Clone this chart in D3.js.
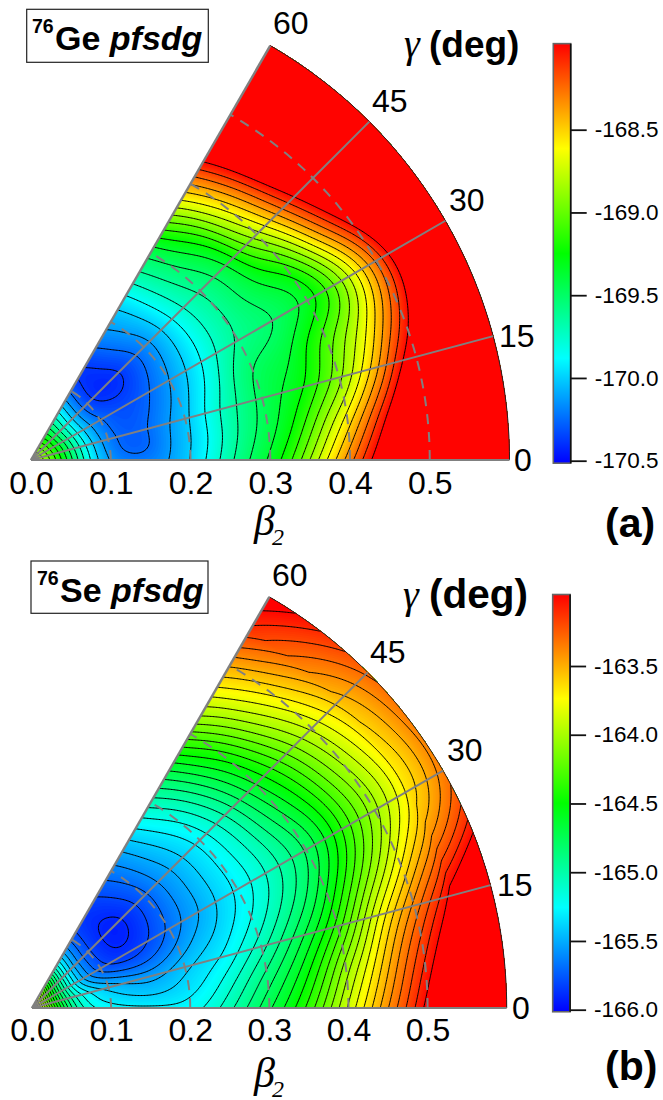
<!DOCTYPE html>
<html><head><meta charset="utf-8">
<script src="https://cdn.jsdelivr.net/npm/d3@7"></script>
<style>
html,body{margin:0;padding:0;background:#fff}
svg{display:block}
text{font-family:"Liberation Sans",Arial,sans-serif;fill:#000}
</style></head><body>
<svg id="c" width="663" height="1100"></svg>
<script>
// beta_2 knots (columns) and gamma knots (rows)
const betaKnots = [0,.025,.05,.075,.1,.125,.15,.175,.2,.225,.25,.275,.3,.325,.35,.375,.4,.425,.45,.475,.5,.525,.55,.6];
const gammaKnots = [0,7.5,15,22.5,30,37.5,45,52.5,60];
const betaTicks = [0,.1,.2,.3,.4,.5];
const gammaTicks = [0,15,30,45,60];
const arcBetas = [.1,.2,.3,.4,.5];

const ge0  = [-168.65,-169.0,-169.47,-169.91,-170.17,-170.22,-170.21,-170.12,-170.0,-169.84,-169.65,-169.49,-169.36,-169.16,-168.87,-168.58,-168.3,-168.02,-167.75,-167.45,-167.2,-166.9,-166.6,-166];
const ge8  = [-168.65,-169.02,-169.5,-169.94,-170.2,-170.31,-170.28,-170.13,-170.02,-169.88,-169.7,-169.55,-169.44,-169.32,-169.1,-168.82,-168.56,-168.27,-167.97,-167.7,-167.4,-167.1,-166.8,-166.2];
const ge15 = [-168.65,-169.04,-169.53,-169.96,-170.22,-170.3,-170.26,-170.14,-170.03,-169.87,-169.7,-169.58,-169.46,-169.38,-169.3,-169.16,-168.98,-168.72,-168.43,-168.08,-167.85,-167.6,-167.3,-166.8];
const ge23 = [-168.65,-169.06,-169.55,-170.0,-170.24,-170.32,-170.29,-170.2,-170.08,-169.94,-169.8,-169.6,-169.47,-169.44,-169.39,-169.2,-169.02,-168.86,-168.68,-168.42,-168.14,-167.87,-167.6,-167.1];
const ge30 = [-168.65,-169.08,-169.58,-170.03,-170.25,-170.33,-170.32,-170.24,-170.13,-170.0,-169.86,-169.72,-169.62,-169.58,-169.55,-169.51,-169.43,-169.3,-169.02,-168.68,-168.32,-167.98,-167.65,-167];
const ge38 = [-168.65,-169.09,-169.6,-170.05,-170.33,-170.39,-170.38,-170.29,-170.17,-170.03,-169.89,-169.74,-169.64,-169.52,-169.43,-169.33,-169.2,-168.88,-168.5,-168.18,-167.9,-167.6,-167.3,-166.8];
const ge45 = [-168.65,-169.1,-169.62,-170.05,-170.37,-170.44,-170.42,-170.32,-170.2,-170.05,-169.88,-169.72,-169.62,-169.52,-169.38,-169.05,-168.77,-168.47,-168.17,-167.9,-167.6,-167.3,-167,-166.5];
const ge53 = [-168.65,-169.12,-169.6,-170.02,-170.36,-170.43,-170.36,-170.24,-170.12,-170.0,-169.83,-169.66,-169.52,-169.4,-169.2,-168.85,-168.57,-168.27,-167.95,-167.65,-167.3,-167,-166.7,-166.1];
const ge60 = [-168.65,-169.14,-169.58,-169.97,-170.31,-170.42,-170.32,-170.18,-170.08,-169.97,-169.79,-169.6,-169.46,-169.22,-168.93,-168.63,-168.37,-168.07,-167.8,-167.5,-167.2,-166.9,-166.6,-166];

const se0  = [-163.4,-164.3,-164.95,-165.2,-165.26,-165.28,-165.28,-165.28,-165.26,-165.17,-165.03,-164.88,-164.72,-164.56,-164.37,-164.13,-163.88,-163.65,-163.4,-163.18,-162.96,-162.7,-162.45,-162];
const se8  = [-163.4,-164.35,-165,-165.27,-165.36,-165.41,-165.44,-165.41,-165.35,-165.28,-165.15,-165,-164.85,-164.7,-164.53,-164.3,-164.02,-163.8,-163.55,-163.3,-163.1,-162.9,-162.7,-162.2];
const se15 = [-163.4,-164.4,-165.05,-165.3,-165.42,-165.5,-165.54,-165.5,-165.41,-165.35,-165.3,-165.18,-165.05,-164.9,-164.74,-164.58,-164.38,-164.1,-163.8,-163.55,-163.33,-163.13,-162.93,-162.5];
const se23 = [-163.4,-164.4,-165.08,-165.45,-165.63,-165.72,-165.74,-165.68,-165.58,-165.47,-165.4,-165.31,-165.22,-165.1,-164.97,-164.83,-164.65,-164.45,-164.24,-164.03,-163.8,-163.58,-163.4,-163.1];
const se30 = [-163.4,-164.4,-165.1,-165.55,-165.78,-165.88,-165.87,-165.79,-165.69,-165.58,-165.49,-165.38,-165.29,-165.2,-165.08,-164.96,-164.84,-164.68,-164.47,-164.27,-164.1,-163.93,-163.75,-163.4];
const se38 = [-163.4,-164.38,-165.08,-165.55,-165.8,-165.92,-165.93,-165.84,-165.72,-165.6,-165.49,-165.38,-165.28,-165.17,-165.03,-164.87,-164.71,-164.55,-164.37,-164.17,-164,-163.83,-163.67,-163.35];
const se45 = [-163.4,-164.35,-165.05,-165.55,-165.8,-165.92,-165.95,-165.86,-165.74,-165.6,-165.5,-165.38,-165.28,-165.14,-164.98,-164.78,-164.6,-164.44,-164.25,-164.06,-163.9,-163.73,-163.58,-163.3];
const se53 = [-163.4,-164.25,-165,-165.5,-165.78,-165.9,-165.9,-165.8,-165.69,-165.56,-165.44,-165.32,-165.2,-165.03,-164.84,-164.65,-164.48,-164.25,-164.02,-163.85,-163.68,-163.51,-163.36,-163.1];
const se60 = [-163.4,-164.2,-164.95,-165.45,-165.75,-165.88,-165.85,-165.75,-165.64,-165.52,-165.37,-165.22,-165.05,-164.87,-164.67,-164.45,-164.23,-164,-163.83,-163.65,-163.49,-163.3,-163.15,-162.9];

const geRows = [ge0,ge8,ge15,ge23,ge30,ge38,ge45,ge53,ge60];
const seRows = [se0,se8,se15,se23,se30,se38,se45,se53,se60];
const geBarTicks = [-170.5,-170,-169.5,-169,-168.5];
const seBarTicks = [-166,-165.5,-165,-164.5,-164,-163.5];
const rainbow = ["#0000ff","#00ffff","#00ff00","#ffff00","#ff0000"];
const SANS='"Liberation Sans",Arial,sans-serif', SERIF='"Liberation Serif",serif';

const svg=d3.select("#c");
const rad=d=>d*Math.PI/180;

function panel(o,id){
  const g=svg.append("g");
  const r=d3.scaleLinear().domain([0,.6]).range([0,o.R]);
  const px=(b,a)=>[o.ox+r(b)*Math.cos(rad(a)), o.oy-r(b)*Math.sin(rad(a))];
  const color=d3.scaleLinear().domain(d3.range(5).map(i=>o.lo+(o.hi-o.lo)*i/4)).range(rainbow).clamp(true);

  // surface lookup through D3 spline interpolators on the read knots
  const betaIdx=d3.scaleLinear().domain([0,.55,.6]).range([0,22/23,1]).clamp(true);
  const rowFns=o.rows.map(row=>d3.interpolateBasis(row));
  const surf=(b,a)=>{
    const t=betaIdx(b);
    return d3.interpolateBasis(rowFns.map(f=>f(t)))(Math.max(0,Math.min(60,a))/60);
  };
  const k=1.5,x0=o.ox-6,y0=o.oy-o.R*.87-6;
  const nx=Math.ceil((o.R+12)/k),ny=Math.ceil((o.R*.87+12)/k);
  const vals=new Float64Array(nx*ny);
  for(let j=0;j<ny;j++)for(let i=0;i<nx;i++){
    const dx=x0+(i+.5)*k-o.ox,dy=o.oy-(y0+(j+.5)*k);
    const b=Math.hypot(dx,dy)/o.R*.6,a=Math.atan2(dy,dx)*180/Math.PI;
    vals[i+j*nx]=surf(b,a<-90?60:a);
  }
  const proj=d3.geoTransform({point(x,y){this.stream.point(x0+x*k,y0+y*k);}});
  const path=d3.geoPath(proj);

  const arc=d3.arc()({innerRadius:0,outerRadius:o.R,startAngle:rad(30),endAngle:rad(90)});
  svg.append("clipPath").attr("id","w"+id).append("path").attr("d",arc).attr("transform",`translate(${o.ox},${o.oy})`);
  const map=g.append("g").attr("clip-path",`url(#w${id})`);
  map.append("rect").attr("x",x0).attr("y",y0).attr("width",nx*k).attr("height",ny*k).attr("fill",color(o.lo));
  const fills=d3.range(o.lo,o.hi,.015);
  const bands=d3.contours().size([nx,ny]).thresholds(fills)(vals);
  map.selectAll(".b").data(bands).join("path").attr("class","b").attr("d",path).attr("fill",d=>color(d.value+.0075));
  const lines=d3.contours().size([nx,ny]).thresholds(o.levels)(vals);
  map.selectAll(".l").data(lines).join("path").attr("class","l").attr("d",path).attr("fill","none").attr("stroke","#000").attr("stroke-width",1);

  // outer arc
  const outer=d3.line().x(d=>px(.6,d)[0]).y(d=>px(.6,d)[1]);
  g.append("path").attr("d",outer(d3.range(0,60.5,1))).attr("fill","none").attr("stroke","#222").attr("stroke-width",1);
  // dashed beta arcs
  g.selectAll(".a").data(arcBetas).join("path").attr("class","a")
    .attr("d",b=>d3.line().x(d=>px(b,d)[0]).y(d=>px(b,d)[1])(d3.range(0,60.5,1)))
    .attr("fill","none").attr("stroke","#808080").attr("stroke-width",2).attr("stroke-dasharray","10 8");
  // gamma rays
  g.selectAll(".r").data(gammaTicks).join("line").attr("class","r")
    .attr("x1",o.ox).attr("y1",o.oy).attr("x2",d=>px(.6,d)[0]).attr("y2",d=>px(.6,d)[1])
    .attr("stroke","#808080").attr("stroke-width",d=>d==60?2.4:2);

  // beta axis labels
  const xs=d3.scaleLinear().domain([0,.6]).range([o.ox,o.ox+o.R]);
  const ax=d3.axisBottom(xs).tickValues(betaTicks).tickFormat(d3.format(".1f")).tickSize(0).tickPadding(o.labY-o.oy-24);
  const axg=g.append("g").attr("transform",`translate(0,${o.oy})`).call(ax);
  axg.select(".domain").remove();
  axg.selectAll("text").attr("font-size",32).attr("font-family",SANS).attr("fill","#000").attr("y",null).attr("dy",null).attr("transform",`translate(0,${o.labY-o.oy})`).attr("dominant-baseline","auto");
  // gamma labels
  g.selectAll(".gl").data(gammaTicks).join("text").attr("class","gl").text(d=>d)
    .attr("x",(d,i)=>o.gx[i]).attr("y",(d,i)=>o.gy[i]).attr("font-size",32);

  // title box
  g.append("rect").attr("x",o.bx[0]).attr("y",o.bx[1]).attr("width",o.bx[2]).attr("height",o.bx[3]).attr("fill","#fff").attr("stroke","#222").attr("stroke-width",1.2);
  g.append("text").text("76").attr("x",o.supX).attr("y",o.supY).attr("font-size",19.5).attr("font-weight","bold");
  const t=g.append("text").attr("x",o.mainX).attr("y",o.mainY).attr("font-size",34).attr("font-weight","bold");
  t.append("tspan").text(o.el+" ");
  t.append("tspan").text("pfsdg").attr("font-style","italic");

  // gamma (deg)
  g.append("text").text("γ").attr("x",o.gamX).attr("y",o.degY).attr("font-size",40).attr("font-style","italic").style("font-family",SERIF);
  g.append("text").text("(deg)").attr("x",429).attr("y",o.degY).attr("font-size",o.degS).attr("font-weight","bold");
  // beta label
  g.append("text").text("β").attr("x",o.betX).attr("y",o.betY).attr("font-size",42).attr("font-style","italic").style("font-family",SERIF);
  g.append("text").text("2").attr("x",o.betX+18).attr("y",o.betY+10).attr("font-size",24).attr("font-style","italic").style("font-family",SERIF);
  // panel letter
  g.append("text").text(o.letter).attr("x",605).attr("y",o.letY).attr("font-size",41).attr("font-weight","bold");

  // colour bar
  const yb=d3.scaleLinear().domain([o.tick0[0],o.tick0[1]]).range([o.tick0[2],o.tick0[3]]);
  const gid="grad"+id;
  const grad=svg.append("linearGradient").attr("id",gid).attr("x1",0).attr("x2",0).attr("y1",1).attr("y2",0);
  rainbow.forEach((c,i)=>grad.append("stop").attr("offset",i/4).attr("stop-color",c));
  g.append("rect").attr("x",o.cb[0]).attr("y",yb(o.hi)).attr("width",o.cb[1]).attr("height",yb(o.lo)-yb(o.hi))
    .attr("fill",`url(#${gid})`).attr("stroke","#666").attr("stroke-width",1.6);
  g.append("line").attr("x1",o.cb[0]+o.cb[1]).attr("x2",o.cb[0]+o.cb[1]).attr("y1",yb(o.hi)).attr("y2",yb(o.lo)).attr("stroke","#111").attr("stroke-width",1.6);
  const ca=d3.axisRight(yb).tickValues(o.barTicks).tickFormat(d3.format(".1f")).tickSize(16).tickPadding(8);
  const cg=g.append("g").attr("transform",`translate(${o.cb[0]+o.cb[1]},0)`).call(ca);
  cg.select(".domain").remove();
  cg.selectAll("line").attr("stroke","#111").attr("stroke-width",1.8);
  cg.selectAll("text").attr("font-size",22.5).attr("font-family",SANS).attr("fill","#000").text(d=>d3.format(".1f")(d).replace("−","-"));
}

panel({rows:geRows,ox:31,oy:460,R:478.5,lo:-170.515,hi:-167.98,
  levels:d3.range(0,20).map(i=>-168-i*.125),
  labY:494,gx:[514,499,449,372,273],gy:[471,347,211,112,34],
  bx:[26.7,9.3,181.6,53],supX:32,supY:33,mainX:55,mainY:50,el:"Ge",
  gamX:404,degY:57,degS:37,betX:254,betY:535,letter:"(a)",letY:537,
  cb:[553.3,17.4],tick0:[-170.5,-168.5,460.7,129.7],barTicks:geBarTicks},"a");

panel({rows:seRows,ox:32,oy:1008,R:474.7,lo:-166.015,hi:-162.98,
  levels:d3.range(0,30).map(i=>-163-i*.1),
  labY:1041,gx:[512,497,447,370,272],gy:[1019,896,761,663,586],
  bx:[31,561,177,52.3],supX:37,supY:585,mainX:60,mainY:602,el:"Se",
  gamX:403,degY:608,degS:40.5,betX:254,betY:1087,letter:"(b)",letY:1080,
  cb:[552.7,17.4],tick0:[-166,-163.5,1009.7,666],barTicks:seBarTicks},"b");
</script>
</body></html>
